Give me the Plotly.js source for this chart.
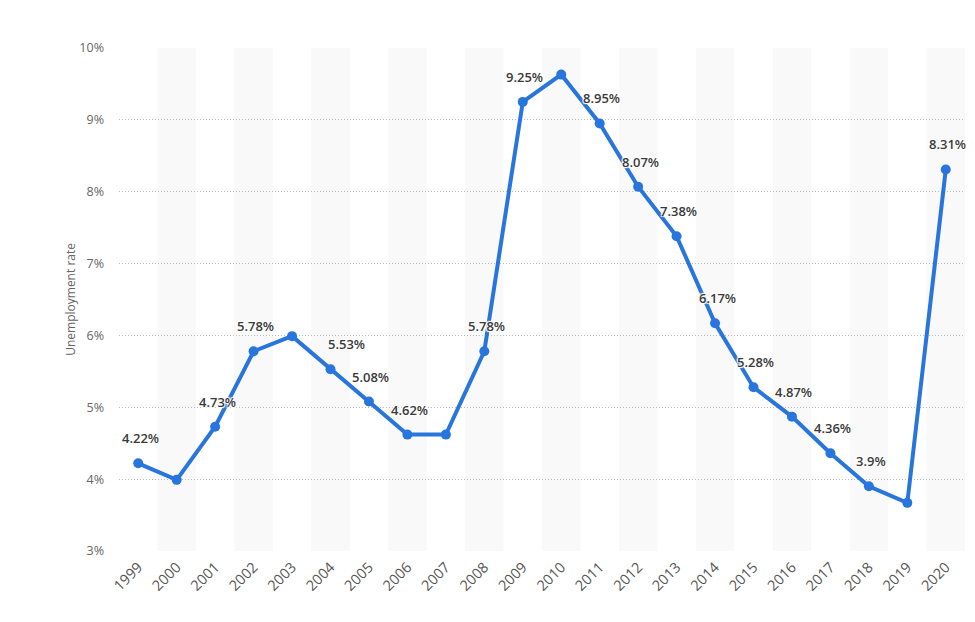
<!DOCTYPE html>
<html><head><meta charset="utf-8">
<script src="https://cdn.plot.ly/plotly-3.0.1.min.js"></script>
<style>body{margin:0;background:#fff}#c{width:975px;height:622px}</style>
</head><body><div id="c"></div>
<script>
const years = [1999,2000,2001,2002,2003,2004,2005,2006,2007,2008,2009,2010,2011,2012,2013,2014,2015,2016,2017,2018,2019,2020];
const rates = [4.22,3.99,4.73,5.78,5.99,5.53,5.08,4.62,4.62,5.78,9.25,9.63,8.95,8.07,7.38,6.17,5.28,4.87,4.36,3.9,3.67,8.31];
const labels = ['4.22%',null,'4.73%','5.78%',null,'5.53%','5.08%','4.62%',null,'5.78%','9.25%',null,'8.95%','8.07%','7.38%','6.17%','5.28%','4.87%','4.36%','3.9%',null,'8.31%'];
const yTicks = [3,4,5,6,7,8,9,10];

const shapes = years.filter((y,i)=>i%2===1).map(y=>({
  type:'rect', xref:'x', yref:'paper', x0:y-0.5, x1:y+0.5, y0:0, y1:1,
  fillcolor:'#f9f9f9', line:{width:0}, layer:'below'
}));
const annotations = [];
years.forEach((y,i)=>{
  if(labels[i]) annotations.push({x:y, y:rates[i], text:labels[i], showarrow:false,
    yshift:25, xshift:(i===5?16:2),
    font:{family:'Open Sans, sans-serif', size:13, color:'#3a3a3a', weight:600,
      shadow:'1px 1px 1px #fff, -1px -1px 1px #fff, 1px -1px 1px #fff, -1px 1px 1px #fff'}});
});
annotations.push({xref:'paper', yref:'paper', x:-0.07, y:0.5, text:'Unemployment rate', textangle:-90,
  showarrow:false, font:{family:'Open Sans, sans-serif', size:12, color:'#666'}});

Plotly.newPlot('c',[{
  x:years, y:rates, type:'scatter', mode:'lines+markers',
  line:{color:'#2876dd', width:4}, marker:{color:'#2876dd', size:10},
  hoverinfo:'skip'
}],{
  width:975, height:622,
  margin:{l:119, r:10, t:48, b:71},
  paper_bgcolor:'#fff', plot_bgcolor:'#fff',
  showlegend:false,
  shapes:shapes, annotations:annotations,
  xaxis:{range:[1998.5,2020.5], tickvals:years, ticktext:years.map(String), tickangle:-45,
    showgrid:false, zeroline:false, showline:false, ticks:'', ticklabelstandoff:4,
    tickfont:{family:'Open Sans, sans-serif', size:14.5, color:'#555'}},
  yaxis:{range:[3,10], tickvals:yTicks, ticktext:yTicks.map(v=>v+'%'),
    showgrid:true, gridcolor:'#bbbbbb', griddash:'1px,2px', gridwidth:1, zeroline:false, showline:false, ticks:'',
    ticklabelstandoff:14,
    tickfont:{family:'Open Sans, sans-serif', size:12.5, color:'#666'}}
},{displayModeBar:false, staticPlot:true});
</script></body></html>
